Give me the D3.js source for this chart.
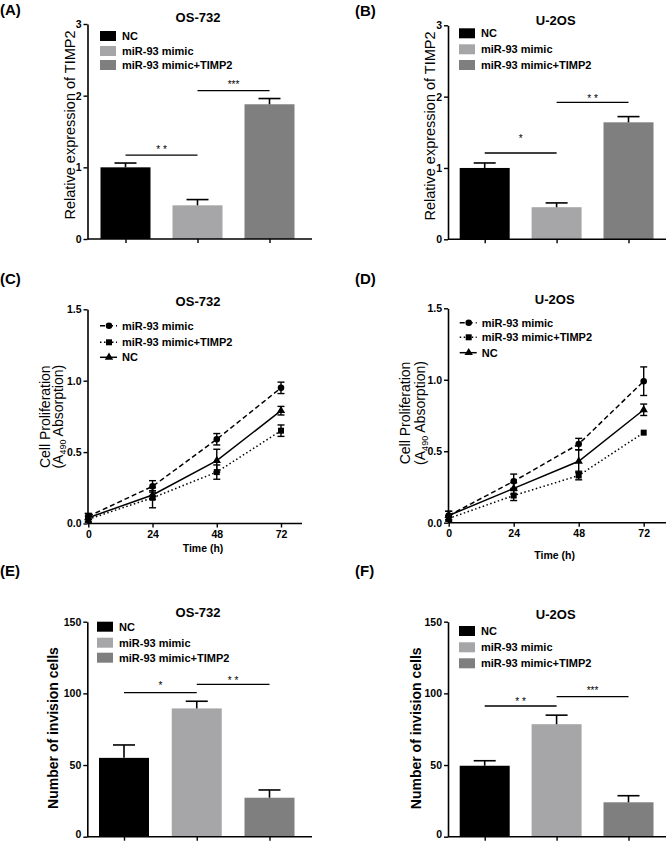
<!DOCTYPE html>
<html><head><meta charset="utf-8">
<script src="https://cdn.jsdelivr.net/npm/d3@7"></script>
<style>body{margin:0;background:#fff}svg{display:block;font-family:"Liberation Sans",Arial,sans-serif}</style>
</head><body><svg id="c" width="666" height="841"></svg>
<script>
// ---------- DATA ----------
const groups = ["NC", "miR-93 mimic", "miR-93 mimic+TIMP2"];
const timp2OS732 = [1.00, 0.47, 1.88];
const timp2OS732Err = [0.06, 0.08, 0.08];
const timp2U2OS = [1.00, 0.45, 1.64];
const timp2U2OSErr = [0.07, 0.06, 0.08];
const invOS732 = [55, 89.5, 27.2];
const invOS732Err = [9, 5, 5.4];
const invU2OS = [49.5, 78.5, 24];
const invU2OSErr = [3.5, 6.3, 4.6];

const timeHours = [0, 24, 48, 72];
const lineSeries = ["miR-93 mimic", "miR-93 mimic+TIMP2", "NC"];
const prolOS732Mimic = [0.05, 0.26, 0.59, 0.95];
const prolOS732MimicErr = [0.02, 0.04, 0.04, 0.04];
const prolOS732Timp2 = [0.03, 0.18, 0.36, 0.65];
const prolOS732Timp2Err = [0.02, 0.07, 0.05, 0.04];
const prolOS732NC = [0.04, 0.20, 0.44, 0.79];
const prolOS732NCErr = [0.03, 0.03, 0.08, 0.03];
const prolU2OSMimic = [0.05, 0.29, 0.55, 0.99];
const prolU2OSMimicErr = [0.03, 0.05, 0.04, 0.10];
const prolU2OSTimp2 = [0.03, 0.19, 0.33, 0.63];
const prolU2OSTimp2Err = [0.02, 0.035, 0.03, 0.0];
const prolU2OSNC = [0.05, 0.24, 0.43, 0.79];
const prolU2OSNCErr = [0.03, 0.04, 0.08, 0.04];

const ticksTIMP2 = [0, 1, 2, 3];
const ticksProl = [0, 0.5, 1.0, 1.5];
const ticksInv = [0, 50, 100, 150];

// significance: [from group index, to group index, label, line level, text level]
const sigA = [[0, 1, "* *", 1.17, 1.28], [1, 2, "***", 2.07, 2.18]];
const sigB = [[0, 1, "*", 1.21, 1.44], [1, 2, "* *", 1.92, 2.0]];
const sigE = [[0, 1, "*", 100.5, 107], [1, 2, "* *", 106.3, 110.5]];
const sigF = [[0, 1, "* *", 91.2, 95.4], [1, 2, "***", 97.7, 103.5]];

// ---------- STYLE ----------
const FONT = '"Liberation Sans", Arial, sans-serif';
const fillOf = {"NC": "#000000", "miR-93 mimic": "#a6a6a8", "miR-93 mimic+TIMP2": "#7f7f7f"};
const dashOf = {"miR-93 mimic": "5,3", "miR-93 mimic+TIMP2": "1.5,2.5", "NC": null};
const markOf = {"miR-93 mimic": d3.symbolCircle, "miR-93 mimic+TIMP2": d3.symbolSquare, "NC": d3.symbolTriangle};
const markSize = {"miR-93 mimic": 34, "miR-93 mimic+TIMP2": 36, "NC": 30};

const svg = d3.select("#c");

function styleAxis(g, fs) {
  g.select(".domain").attr("stroke", "#000").attr("stroke-width", 1.6);
  g.selectAll(".tick line").attr("stroke", "#000").attr("stroke-width", 1.4);
  g.selectAll(".tick text").attr("fill", "#000").style("font-family", FONT)
    .style("font-size", fs + "px").style("font-weight", "bold");
}

function panelLabel(txt, x, y) {
  svg.append("text").attr("x", x).attr("y", y).text(txt)
    .style("font-family", FONT).style("font-size", "15px").style("font-weight", "bold");
}

function title(txt, x, y) {
  svg.append("text").attr("x", x).attr("y", y).attr("text-anchor", "middle").text(txt)
    .style("font-family", FONT).style("font-size", "13px").style("font-weight", "bold");
}

function barPanel(c) {
  const y = d3.scaleLinear().domain([0, c.yMax]).range([c.yBottom, c.yTop]);
  const x = d3.scalePoint().domain(groups).range([c.c0, c.c2]);
  const g = svg.append("g");
  const bw = 50;
  groups.forEach((k, i) => {
    g.append("rect").attr("x", x(k) - bw / 2).attr("width", bw)
      .attr("y", y(c.values[i])).attr("height", y(0) - y(c.values[i]))
      .attr("fill", fillOf[k]);
    const top = y(c.values[i] + c.errs[i]);
    g.append("line").attr("x1", x(k)).attr("x2", x(k)).attr("y1", y(c.values[i])).attr("y2", top)
      .attr("stroke", "#000").attr("stroke-width", 1.6);
    g.append("line").attr("x1", x(k) - 11).attr("x2", x(k) + 11).attr("y1", top).attr("y2", top)
      .attr("stroke", "#000").attr("stroke-width", 1.6);
  });
  const ya = g.append("g").attr("transform", `translate(${c.ax},0)`)
    .call(d3.axisLeft(y).tickValues(c.ticks).tickSize(4).tickSizeOuter(0).tickPadding(2).tickFormat(d3.format("d")));
  styleAxis(ya, 10.5);
  if (c.lift) ya.selectAll(".tick").filter(d => d === 0).select("text").attr("dy", "0.1em");
  const xa = g.append("g").attr("transform", `translate(0,${c.yBottom})`)
    .call(d3.axisBottom(x).tickSize(4).tickSizeOuter(0).tickFormat(""));
  xa.select(".domain").attr("d", `M${c.ax},0H${c.xEnd}`);
  styleAxis(xa, 10);
  groups.forEach((k, i) => {
    g.append("rect").attr("x", c.lx).attr("y", c.ly[i] - 5).attr("width", 16).attr("height", 10).attr("fill", fillOf[k]);
    g.append("text").attr("x", c.lx + 22).attr("y", c.ly[i] + 4).text(k)
      .style("font-family", FONT).style("font-size", "11px").style("font-weight", "bold");
  });
  c.sig.forEach(s => {
    const x1 = x(groups[s[0]]), x2 = x(groups[s[1]]);
    g.append("line").attr("x1", x1).attr("x2", x2).attr("y1", y(s[3])).attr("y2", y(s[3]))
      .attr("stroke", "#000").attr("stroke-width", 1.3);
    g.append("text").attr("x", (x1 + x2) / 2).attr("y", y(s[4]) + 5.5).attr("text-anchor", "middle")
      .attr("fill", "#000").text(s[2]).style("font-family", FONT).style("font-size", "10px");
  });
  title(c.title, c.tx, c.ty);
  g.append("text").attr("transform", `translate(${c.ylx},${c.yly}) rotate(-90)`)
    .attr("text-anchor", "middle").attr("dy", "0.35em").text(c.ylabel)
    .style("font-family", FONT).style("font-size", c.ylfs + "px").style("font-weight", c.ylfw);
}

function linePanel(c) {
  const y = d3.scaleLinear().domain([0, 1.5]).range([c.yBottom, c.yTop]);
  const x = d3.scaleLinear().domain([0, 72]).range([c.x0, c.x72]);
  const g = svg.append("g");
  const ya = g.append("g").attr("transform", `translate(${c.ax},0)`)
    .call(d3.axisLeft(y).tickValues(ticksProl).tickSize(4).tickSizeOuter(0).tickPadding(2).tickFormat(d3.format(".1f")));
  styleAxis(ya, 10.5);
  const xa = g.append("g").attr("transform", `translate(0,${c.yBottom})`)
    .call(d3.axisBottom(x).tickValues(timeHours).tickSize(4).tickSizeOuter(0).tickPadding(3).tickFormat(d3.format("d")));
  xa.select(".domain").attr("d", `M${c.ax},0H${c.xEnd}`);
  styleAxis(xa, 10.5);
  const line = d3.line().x((d, i) => x(timeHours[i])).y(d => y(d));
  c.series.forEach((s, si) => {
    const name = lineSeries[si];
    g.append("path").datum(s.v).attr("d", line).attr("fill", "none").attr("stroke", "#000")
      .attr("stroke-width", 1.5).attr("stroke-dasharray", dashOf[name]);
    s.v.forEach((v, i) => {
      const e = s.e[i];
      if (e > 0) {
        const xx = x(timeHours[i]);
        g.append("line").attr("x1", xx).attr("x2", xx).attr("y1", y(v - e)).attr("y2", y(v + e)).attr("stroke", "#000").attr("stroke-width", 1.4);
        [v - e, v + e].forEach(w => g.append("line").attr("x1", xx - 3.5).attr("x2", xx + 3.5).attr("y1", y(w)).attr("y2", y(w)).attr("stroke", "#000").attr("stroke-width", 1.4));
      }
      g.append("path").attr("d", d3.symbol().type(markOf[name]).size(markSize[name])())
        .attr("transform", `translate(${x(timeHours[i])},${y(v)})`).attr("fill", "#000");
    });
  });
  lineSeries.forEach((k, i) => {
    const yy = c.ly[i];
    g.append("line").attr("x1", c.lx).attr("x2", c.lx + 17).attr("y1", yy).attr("y2", yy)
      .attr("stroke", "#000").attr("stroke-width", 1.5).attr("stroke-dasharray", dashOf[k]);
    g.append("path").attr("d", d3.symbol().type(markOf[k]).size(markSize[k])())
      .attr("transform", `translate(${c.lx + 9},${yy})`).attr("fill", "#000");
    g.append("text").attr("x", c.lx + 22).attr("y", yy + 4).text(k)
      .style("font-family", FONT).style("font-size", "11px").style("font-weight", "bold");
  });
  title(c.title, c.tx, c.ty);
  const lab = g.append("g").style("font-family", FONT).style("font-size", "14px");
  lab.append("text").attr("transform", `translate(${c.ylx1},${c.yly}) rotate(-90)`)
    .attr("text-anchor", "middle").attr("dy", "0.35em").text("Cell Proliferation");
  const t2 = lab.append("text").attr("transform", `translate(${c.ylx2},${c.yly}) rotate(-90)`)
    .attr("text-anchor", "middle").attr("dy", "0.35em");
  t2.append("tspan").text("(A");
  t2.append("tspan").attr("dy", "3").style("font-size", "9px").text("490");
  t2.append("tspan").attr("dy", "-3").text(" Absorption)");
  g.append("text").attr("x", c.txx).attr("y", c.txy).attr("text-anchor", "middle").text("Time (h)")
    .style("font-family", FONT).style("font-size", "10.5px").style("font-weight", "bold");
}

// ---------- PANELS ----------
panelLabel("(A)", 0, 15);
barPanel({ax: 87.5, xEnd: 312, yBottom: 239, yTop: 24, yMax: 3, ticks: ticksTIMP2, c0: 125.5, c2: 269.5,
  values: timp2OS732, errs: timp2OS732Err, sig: sigA, title: "OS-732", tx: 198, ty: 22,
  ylabel: "Relative expression of TIMP2", ylx: 70, yly: 125, ylfs: 14.5, ylfw: "normal",
  lx: 100, ly: [36, 51, 65]});

panelLabel("(B)", 355, 16);
barPanel({ax: 448, xEnd: 666, yBottom: 239.3, yTop: 25.3, yMax: 3, ticks: ticksTIMP2, c0: 484.7, c2: 628.5,
  values: timp2U2OS, errs: timp2U2OSErr, sig: sigB, title: "U-2OS", tx: 555.7, ty: 25,
  ylabel: "Relative expression of TIMP2", ylx: 429.7, yly: 126, ylfs: 14.5, ylfw: "normal",
  lx: 459, ly: [33.3, 49.3, 65]});

panelLabel("(C)", 0, 284);
linePanel({ax: 87.5, xEnd: 302, x0: 88.3, x72: 281, yBottom: 523.5, yTop: 309.3,
  series: [{v: prolOS732Mimic, e: prolOS732MimicErr}, {v: prolOS732Timp2, e: prolOS732Timp2Err}, {v: prolOS732NC, e: prolOS732NCErr}],
  title: "OS-732", tx: 198, ty: 305.5, lx: 100, ly: [325.7, 342.3, 357.3],
  ylx1: 45, ylx2: 58.5, yly: 416.7, txx: 203, txy: 552});

panelLabel("(D)", 355, 284);
linePanel({ax: 448, xEnd: 666, x0: 448.7, x72: 643.7, yBottom: 522.7, yTop: 308.3,
  series: [{v: prolU2OSMimic, e: prolU2OSMimicErr}, {v: prolU2OSTimp2, e: prolU2OSTimp2Err}, {v: prolU2OSNC, e: prolU2OSNCErr}],
  title: "U-2OS", tx: 554.7, ty: 304, lx: 459.7, ly: [322.7, 337.3, 352.7],
  ylx1: 404.7, ylx2: 419.7, yly: 413, txx: 554.7, txy: 559});

panelLabel("(E)", 0, 576);
barPanel({ax: 87.3, xEnd: 312, yBottom: 836.7, yTop: 621.7, yMax: 150, ticks: ticksInv, c0: 124, c2: 269.5,
  values: invOS732, errs: invOS732Err, sig: sigE, title: "OS-732", tx: 198, ty: 616.5,
  ylabel: "Number of invision cells", ylx: 53.3, yly: 728, ylfs: 14, ylfw: "bold",
  lx: 97, ly: [626.7, 642.7, 657.7], lift: true});

panelLabel("(F)", 355, 576);
barPanel({ax: 448, xEnd: 666, yBottom: 836.7, yTop: 621.7, yMax: 150, ticks: ticksInv, c0: 484.7, c2: 628.5,
  values: invU2OS, errs: invU2OSErr, sig: sigF, title: "U-2OS", tx: 555.7, ty: 619,
  ylabel: "Number of invision cells", ylx: 416.3, yly: 728.3, ylfs: 14, ylfw: "bold",
  lx: 459, ly: [631, 647.3, 663.3], lift: true});
</script></body></html>
